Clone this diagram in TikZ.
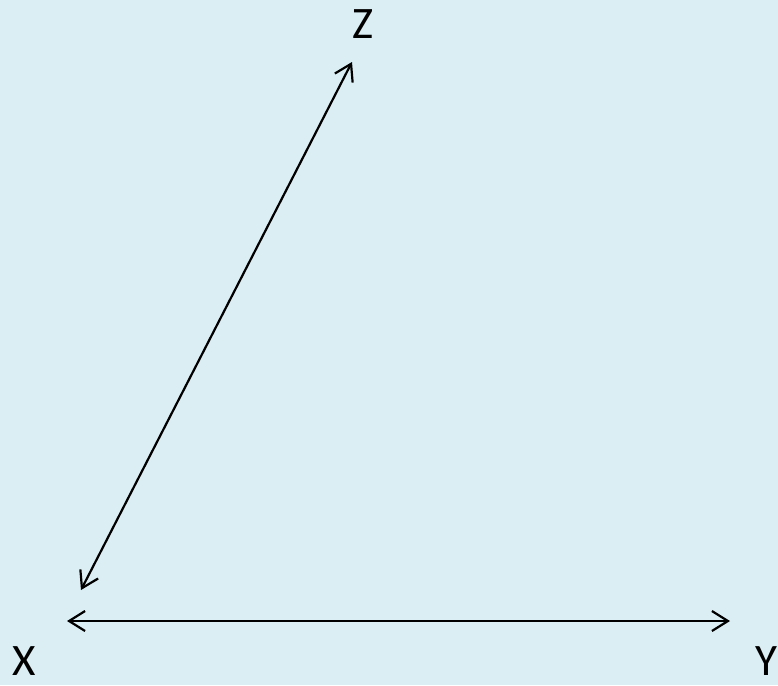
\documentclass[tikz,border=0pt]{standalone}
\usepackage{fontspec}
\setmainfont{Carlito}
\usetikzlibrary{arrows.meta}
\definecolor{bg}{HTML}{DAEEF3}
\begin{document}
\begin{tikzpicture}[x=1pt,y=-1pt,
  lbl/.style={font=\fontsize{45}{54}\selectfont, inner sep=0pt},
  conn/.style={line width=2.2pt, {Straight Barb[length=16pt,width=20pt]}-{Straight Barb[length=16pt,width=20pt]}}]
\fill[bg] (0,0) rectangle (778,685);
\useasboundingbox (0,0) rectangle (778,685);
\node[lbl] (X) at (24,661) {X};
\node[lbl] (Y) at (766,661) {Y};
\node[lbl] (Z) at (363,24) {Z};
\coordinate (xa) at (67,621);
\coordinate (ya) at (730,621);
\coordinate (xb) at (81,590);
\coordinate (zb) at (352,62);
\draw[conn] (xa) -- (ya);
\draw[conn] (xb) -- (zb);
\end{tikzpicture}
\end{document}
